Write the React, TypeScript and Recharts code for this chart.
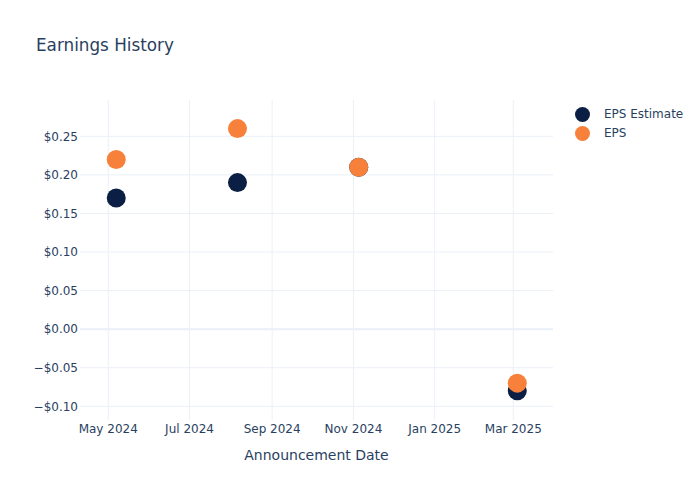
import React from "react";
import {
  ScatterChart,
  Scatter,
  XAxis,
  YAxis,
  CartesianGrid,
  ReferenceLine,
} from "recharts";

// announcement dates and eps values
const announceDates = ["2024-05-07", "2024-08-06", "2024-11-05", "2025-03-04"];
const epsEstimate = [0.17, 0.19, 0.21, -0.08];
const epsActual = [0.22, 0.26, 0.21, -0.07];

const xTickDates = [
  "2024-05-01",
  "2024-07-01",
  "2024-09-01",
  "2024-11-01",
  "2025-01-01",
  "2025-03-01",
];
const yTicks = [-0.1, -0.05, 0, 0.05, 0.1, 0.15, 0.2, 0.25];

const MONTHS = ["Jan", "Feb", "Mar", "Apr", "May", "Jun", "Jul", "Aug", "Sep", "Oct", "Nov", "Dec"];
const DAY = 86400000;
const FONT = "'DejaVu Sans', Verdana, sans-serif";
const TEXT = "#2a3f5f";
const GRID = "#ebf0f8";

const COLORS = {
  estimate: "#0b1f44",
  eps: "#f7813a",
};

const ts = (d: string) => new Date(d + "T00:00:00Z").getTime();

const estimateData = announceDates.map((d, i) => ({ x: ts(d), y: epsEstimate[i] }));
const epsData = announceDates.map((d, i) => ({ x: ts(d), y: epsActual[i] }));
const xTicks = xTickDates.map(ts);

// plotly-like auto range padding
const xDomain = [ts("2024-05-01") - 21.2 * DAY, ts("2025-03-01") + 29.8 * DAY];
const yDomain = [-0.1178, 0.2971];

const series = [
  { name: "EPS Estimate", color: COLORS.estimate },
  { name: "EPS", color: COLORS.eps },
];

function fmtDate(v: number): string {
  const d = new Date(v);
  return `${MONTHS[d.getUTCMonth()]} ${d.getUTCFullYear()}`;
}

function fmtMoney(v: number): string {
  const s = `$${Math.abs(v).toFixed(2)}`;
  return v < -1e-9 ? `\u2212${s}` : s;
}

const dot = (color: string) => (props: any) => (
  <circle cx={props.cx} cy={props.cy} r={9.5} fill={color} />
);

export default function App() {
  return (
    <div
      style={{
        position: "absolute",
        left: 0,
        top: 0,
        width: 700,
        height: 500,
        background: "#fff",
        fontFamily: FONT,
      }}
    >
      <div
        style={{
          position: "absolute",
          left: 36,
          top: 34.5,
          fontSize: 16.8,
          lineHeight: "20px",
          color: TEXT,
        }}
      >
        Earnings History
      </div>

      <ScatterChart
        width={700}
        height={500}
        margin={{ top: 100, right: 147, bottom: 0, left: 0 }}
      >
        <CartesianGrid
          stroke={GRID}
          strokeWidth={1}
          horizontalValues={yTicks}
          verticalValues={xTicks}
        />
        <XAxis
          type="number"
          dataKey="x"
          domain={xDomain}
          ticks={xTicks}
          tickFormatter={fmtDate}
          allowDataOverflow
          height={80}
          axisLine={false}
          tickLine={false}
          tickSize={0}
          tickMargin={4}
          tick={{ fontSize: 12, fill: TEXT, fontFamily: FONT }}
          label={{
            value: "Announcement Date",
            position: "insideBottom",
            offset: 40,
            fill: TEXT,
            fontSize: 14,
            fontFamily: FONT,
          }}
        />
        <YAxis
          type="number"
          dataKey="y"
          domain={yDomain}
          ticks={yTicks}
          tickFormatter={fmtMoney}
          allowDataOverflow
          width={80}
          axisLine={false}
          tickLine={false}
          tickSize={0}
          tickMargin={2}
          tick={{ fontSize: 12, fill: TEXT, fontFamily: FONT }}
        />
        <ReferenceLine y={0} stroke={GRID} strokeWidth={2} />
        <Scatter
          name="EPS Estimate"
          data={estimateData}
          fill={COLORS.estimate}
          shape={dot(COLORS.estimate)}
          isAnimationActive={false}
        />
        <Scatter
          name="EPS"
          data={epsData}
          fill={COLORS.eps}
          shape={dot(COLORS.eps)}
          isAnimationActive={false}
        />
      </ScatterChart>

      {/* legend */}
      <div style={{ position: "absolute", left: 575, top: 104.5 }}>
        {series.map((s) => (
          <div
            key={s.name}
            style={{ display: "flex", alignItems: "center", height: 19 }}
          >
            <span
              style={{
                display: "inline-block",
                width: 15,
                height: 15,
                borderRadius: "50%",
                background: s.color,
                marginRight: 14,
              }}
            />
            <span style={{ fontSize: 12, color: TEXT }}>{s.name}</span>
          </div>
        ))}
      </div>
    </div>
  );
}
